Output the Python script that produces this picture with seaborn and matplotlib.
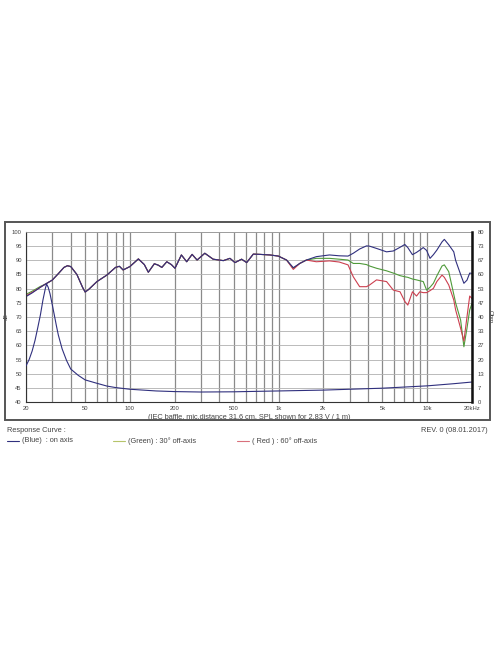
import matplotlib
matplotlib.use("Agg")
import matplotlib.pyplot as plt
import seaborn as sns
import pandas as pd
from matplotlib.patches import Rectangle

# frequency grid (Hz) shared by the three SPL curves
freq = [20, 22, 25, 27, 30, 33, 36, 38, 40, 44, 48, 50, 53, 60, 70, 80, 85, 90, 100,
        114, 125, 133, 146, 155, 164, 177, 190, 201, 222, 241, 262, 283, 319, 363,
        425, 471, 509, 564, 610, 676, 749, 875, 996, 1132, 1256, 1388, 1538, 1795,
        2200, 2560, 2932, 3180, 3510, 3903, 4093, 4560, 5325, 5910, 6560, 7065, 7400,
        7950, 8470, 8910, 9400, 9900, 10440, 11000, 11600, 12570, 13030, 13950,
        15080, 15520, 16770, 17640, 18500, 19300, 20000]

common = [77.2, 78.5, 80.5, 81.6, 83.0, 85.3, 87.5, 88.1, 87.8, 85.0, 80.5, 78.8, 79.8,
          82.5, 84.8, 87.5, 87.9, 86.6, 87.8, 90.5, 88.5, 85.8, 88.8, 88.3, 87.5, 89.5,
          88.5, 87.2, 91.9, 89.5, 92.1, 90.1, 92.5, 90.4, 89.9, 90.7, 89.2, 90.4, 89.2,
          92.2, 92.1, 91.9, 91.5, 90.1]

blue_hi = [87.4, 88.9, 90.1, 91.3, 91.9, 91.6, 91.5, 92.5, 94.0, 95.1, 95.0, 94.2, 93.0,
           93.3, 94.6, 95.6, 94.5, 92.0, 92.8, 93.6, 94.5, 93.5, 90.7, 92.0, 93.6, 96.5,
           97.4, 95.5, 93.0, 90.0, 85.0, 81.9, 83.0, 85.5, 85.4]
green_hi = [87.2, 88.9, 90.1, 90.7, 90.7, 90.4, 90.1, 88.9, 88.9, 88.5, 88.0, 87.2, 86.3,
            85.5, 84.6, 84.2, 84.0, 83.4, 83.1, 82.8, 82.5, 79.5, 80.5, 81.9, 84.5, 88.0,
            88.4, 86.0, 78.0, 75.0, 68.9, 59.5, 66.0, 72.5, 74.8]
red_hi = [86.8, 88.9, 90.1, 89.5, 89.8, 89.4, 88.4, 84.2, 80.7, 80.7, 81.3, 83.1, 82.5,
          79.5, 78.9, 75.5, 74.2, 78.9, 77.4, 78.9, 78.6, 78.6, 79.3, 80.1, 82.5, 84.8,
          84.0, 81.3, 76.0, 72.5, 66.0, 61.5, 70.0, 77.4, 76.5]

spl_blue = common + blue_hi
spl_green = [78.0, 79.1, 80.8] + common[3:] + green_hi
spl_red = [77.5, 78.7, 80.5] + common[3:] + red_hi

# impedance (ohm, right axis)
imp_freq = [20, 21, 22, 23, 24, 25, 26, 27, 27.5, 28.2, 29, 30, 31, 32, 33, 35, 37.5,
            40, 45, 50, 60, 70, 80, 100, 150, 200, 300, 500, 700, 1000, 2000, 5000,
            10000, 15000, 20000]
imp_ohm = [17, 20, 24, 29, 35, 41, 48, 53.5, 55.5, 54, 51, 46, 41, 36, 31.5, 25, 19.5,
           15.5, 12.5, 10.4, 8.8, 7.5, 6.8, 6.0, 5.2, 4.9, 4.7, 4.8, 5.0, 5.2, 5.6, 6.5,
           7.6, 8.6, 9.4]

grid_freqs = [20, 30, 40, 50, 60, 70, 80, 90, 100, 200, 300, 400, 500, 600, 700, 800,
              900, 1000, 2000, 3000, 4000, 5000, 6000, 7000, 8000, 9000, 10000, 20000]
label_map = {20: "20", 50: "50", 100: "100", 200: "200", 500: "500", 1000: "1k",
             2000: "2k", 5000: "5k", 10000: "10k", 20000: "20kHz"}
db_ticks = list(range(40, 101, 5))
ohm_labels = ["0", "7", "13", "20", "27", "33", "40", "47", "53", "60", "67", "73", "80"]

df = pd.DataFrame({"freq": freq, "blue": spl_blue, "green": spl_green, "red": spl_red})
imp = pd.DataFrame({"freq": imp_freq, "ohm": imp_ohm})

sns.set_style("white")
plt.rcParams["font.family"] = ["Liberation Sans", "DejaVu Sans"]

txt = "#444444"
c_blue = "#30307e"
c_green = "#4f9a3a"
c_red = "#cc3f4f"

fig = plt.figure(figsize=(4.96, 6.64), dpi=100)
fig.patches.append(Rectangle((5 / 496, 1 - 420 / 664), 485 / 496, 198 / 664,
                             transform=fig.transFigure, fill=False,
                             edgecolor="#555555", linewidth=1.4))

ax = fig.add_axes([26 / 496, 1 - 402 / 664, 446 / 496, 170 / 664])
ax.set_xscale("log")
ax.set_xlim(20, 20000)
ax.set_ylim(40, 100)

sns.lineplot(data=df, x="freq", y="green", ax=ax, color=c_green, linewidth=0.8)
sns.lineplot(data=df, x="freq", y="red", ax=ax, color=c_red, linewidth=0.8)
sns.lineplot(data=df, x="freq", y="blue", ax=ax, color=c_blue, linewidth=0.8)

ax.set_xticks(grid_freqs)
ax.set_xticklabels([label_map.get(f, "") for f in grid_freqs])
ax.xaxis.set_minor_locator(matplotlib.ticker.NullLocator())
ax.set_yticks(db_ticks)
ax.set_yticklabels([str(v) for v in db_ticks])
ax.tick_params(axis="both", labelsize=4.2, colors=txt, length=0, pad=3)
ax.grid(True, axis="x", color="#8a8a8a", linewidth=0.9)
ax.grid(True, axis="y", color="#b0b0b0", linewidth=0.6)
ax.set_axisbelow(True)
ax.set_xlabel("(IEC baffle, mic.distance 31.6 cm, SPL shown for 2.83 V / 1 m)",
              fontsize=5.3, color=txt, labelpad=2)
ax.set_ylabel("dB", fontsize=4, color=txt, labelpad=2)
ax.spines["top"].set_color("#999999")
ax.spines["top"].set_linewidth(0.6)
ax.spines["left"].set_color("#333333")
ax.spines["left"].set_linewidth(0.8)
ax.spines["bottom"].set_color("#333333")
ax.spines["bottom"].set_linewidth(0.8)

ax2 = ax.twinx()
sns.lineplot(data=imp, x="freq", y="ohm", ax=ax2, color=c_blue, linewidth=0.8)
ax2.set_ylim(0, 80)
ax2.set_yticks([80 * i / 12 for i in range(13)])
ax2.set_yticklabels(ohm_labels)
ax2.tick_params(axis="y", labelsize=4.2, colors=txt, length=0, pad=4)
ax2.set_ylabel("Ohm", fontsize=4.5, color=txt, rotation=270, labelpad=6)
ax2.spines["right"].set_color("#111111")
ax2.spines["right"].set_linewidth(1.8)
for s in ["top", "left", "bottom"]:
    ax2.spines[s].set_visible(False)
ax2.set_xlim(20, 20000)

# captions below the frame
fig.text(7 / 496, 1 - 430 / 664, "Response Curve :", fontsize=5.3, color=txt, va="center")
fig.text(488 / 496, 1 - 430 / 664, "REV. 0 (08.01.2017)", fontsize=5.3, color=txt,
         va="center", ha="right")
legend_items = [(7, c_blue, "(Blue)  : on axis"),
                (113, "#b6c46a", "(Green) : 30\u00b0 off-axis"),
                (237, "#d9707c", "( Red ) : 60\u00b0 off-axis")]
ly = 1 - 441 / 664
for x0, col, label in legend_items:
    fig.add_artist(plt.Line2D([x0 / 496, (x0 + 12) / 496], [ly, ly],
                              transform=fig.transFigure, color=col, linewidth=0.8))
    fig.text((x0 + 15) / 496, ly, label, fontsize=5.3, color=txt, va="center")

fig.savefig("out.png", dpi=100)
